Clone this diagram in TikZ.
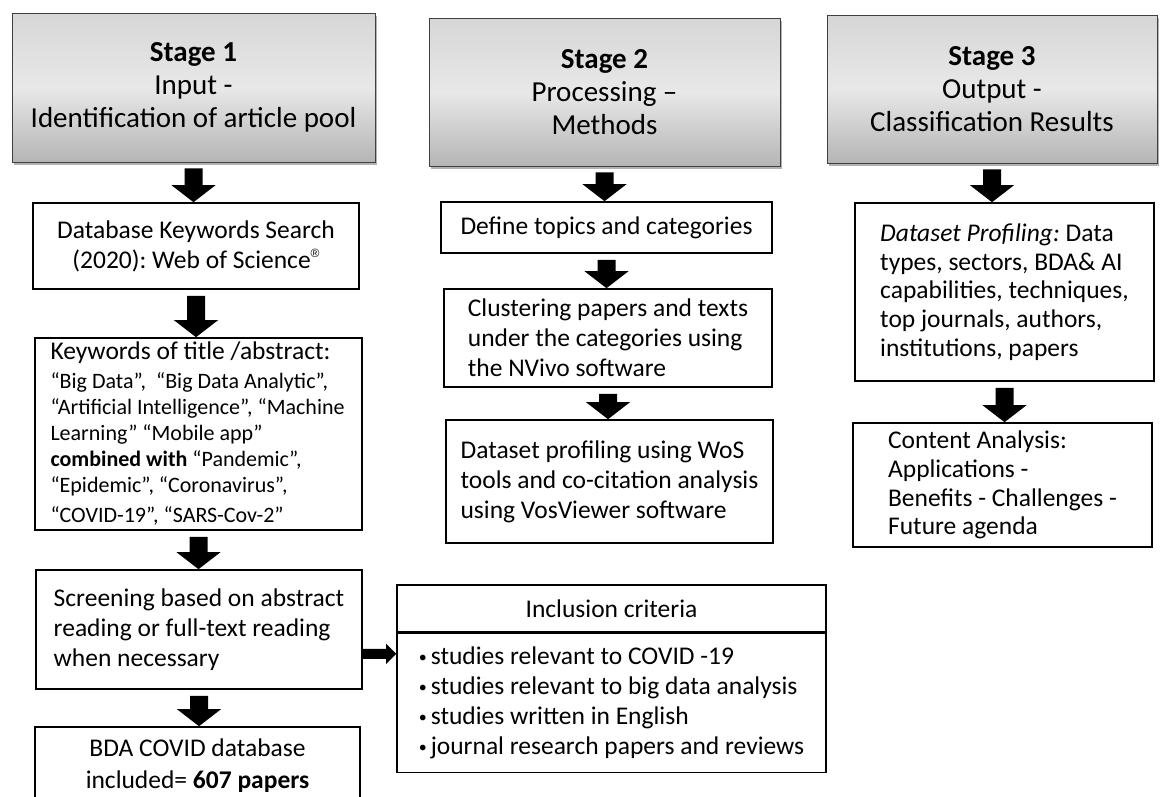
\documentclass[tikz,border=0pt]{standalone}
\usepackage{fontspec}
\setmainfont{Carlito}
\newfontfamily\regfont{Liberation Sans}
\usepackage{tikz}
\usetikzlibrary{calc,shadows}
\frenchspacing

\newcommand{\critdot}{\raisebox{2.5pt}{\fontsize{16}{16}\selectfont •}\hspace{4pt}}
\newcommand{\regmark}{\raisebox{11pt}{\regfont\fontsize{12}{12}\selectfont ®}}
% thick block arrow from one box down to the next
\newcommand{\flowarrow}[2]{%
  \fill let \p1=(#1.south), \p2=(#2.north) in
    (\x1-9pt,\y1-6pt) -- (\x1+9pt,\y1-6pt) -- (\x1+9pt,\y2+17pt) -- (\x1+22pt,\y2+17pt)
    -- (\x1,\y2) -- (\x1-22pt,\y2+17pt) -- (\x1-9pt,\y2+17pt) -- cycle;}
% small arrow pointing right
\newcommand{\sidearrow}[2]{%
  \fill let \p1=(#1.east), \p2=(#2) in
    (\x1,\y2+5pt) -- (\x2-10pt,\y2+5pt) -- (\x2-10pt,\y2+10pt) -- (\x2,\y2)
    -- (\x2-10pt,\y2-10pt) -- (\x2-10pt,\y2-5pt) -- (\x1,\y2-5pt) -- cycle;}

\tikzset{
  stagebox/.style={draw=black!75, line width=0.9pt,
    top color=gray!32, bottom color=gray!58, middle color=gray!18,
    drop shadow={shadow xshift=2pt, shadow yshift=-3pt, opacity=0.3, fill=black},
    align=center, inner sep=0pt, font=\fontsize{29}{33}\selectfont},
  flowbox/.style={draw=black, line width=1.6pt, fill=white, inner sep=0pt,
    font=\fontsize{25.5}{30}\selectfont},
}

\begin{document}
\begin{tikzpicture}[x=1pt, y=-1pt]
  \useasboundingbox (0,0) rectangle (1161,796);
  \clip (0,0) rectangle (1161,796);
  % stage headers
  \node[stagebox, minimum width=363pt, minimum height=149pt] (s1) at (193.5,87.5) {\textbf{Stage 1}\\Input -\\Identification of article pool};
  \node[stagebox, minimum width=351pt, minimum height=148pt] (s2) at (604.5,92) {\textbf{Stage 2}\\Processing –\\Methods};
  \node[stagebox, minimum width=330pt, minimum height=148pt] (s3) at (992,89) {\textbf{Stage 3}\\Output -\\Classification Results};

  % stage 1: article pool
  \node[flowbox, align=center, minimum width=326pt, minimum height=86pt] (dbsearch) at (196,246) {Database Keywords Search\\(2020): Web of Science\regmark};
  \node[flowbox, align=flush left, text width=296pt, inner xsep=15.5pt, minimum height=192pt] (keywords) at (198.5,434) {Keywords of title /abstract:\\[3pt]
    \fontsize{22}{26}\selectfont “Big Data”,\ \ “Big Data Analytic”,\\
    “Artificial Intelligence”, “Machine\\
    Learning” “Mobile app”\\
    \textbf{combined with} “Pandemic”,\\
    “Epidemic”, “Coronavirus”,\\
    “COVID-19”, “SARS-Cov-2”};
  \node[flowbox, align=left, minimum width=326pt, minimum height=119pt] (screening) at (199,629.5) {Screening based on abstract\\reading or full-text reading\\when necessary};
  \node[flowbox, align=center, minimum width=325pt, minimum height=78pt, font=\fontsize{25.5}{32}\selectfont] (bdadb) at (197.5,766) {BDA COVID database\\included= \textbf{607 papers}};

  % inclusion criteria
  \node[flowbox, align=center, minimum width=429pt, minimum height=47pt] (inclhead) at (611.5,608.5) {Inclusion criteria};
  \node[flowbox, align=left, minimum width=429pt, minimum height=139pt, anchor=north] (inclbody) at (inclhead.south) {\critdot studies relevant to COVID -19\\\critdot studies relevant to big data analysis\\\critdot studies written in English\\\critdot journal research papers and reviews};
  \coordinate (incltip) at ($(inclbody.north west)+(0,21)$);

  % stage 2: methods
  \node[flowbox, align=center, minimum width=331pt, minimum height=51pt] (topics) at (606.5,227.5) {Define topics and categories};
  \node[flowbox, align=left, minimum width=328pt, minimum height=98pt] (cluster) at (608,338) {Clustering papers and texts\\under the categories using\\the NVivo software};
  \node[flowbox, align=left, minimum width=327pt, minimum height=123pt] (wosprof) at (609.5,481.5) {Dataset profiling using WoS\\tools and co-citation analysis\\using VosViewer software};

  % stage 3: results
  \node[flowbox, align=left, minimum width=299pt, minimum height=178pt, font=\fontsize{25.5}{28.7}\selectfont] (dsprof) at (1004.5,292) {\textit{Dataset Profiling:} Data\\types, sectors, BDA\& AI\\capabilities, techniques,\\top journals, authors,\\institutions, papers};
  \node[flowbox, align=left, minimum width=299pt, minimum height=124pt, font=\fontsize{25.5}{28.7}\selectfont] (content) at (1002.5,485) {Content Analysis:\\Applications -\\Benefits - Challenges -\\Future agenda};

  % arrows
  \flowarrow{s1}{dbsearch}
  \flowarrow{dbsearch}{keywords}
  \flowarrow{keywords}{screening}
  \flowarrow{screening}{bdadb}
  \flowarrow{s2}{topics}
  \flowarrow{topics}{cluster}
  \flowarrow{cluster}{wosprof}
  \flowarrow{s3}{dsprof}
  \flowarrow{dsprof}{content}
  \sidearrow{screening}{incltip}
\end{tikzpicture}
\end{document}
